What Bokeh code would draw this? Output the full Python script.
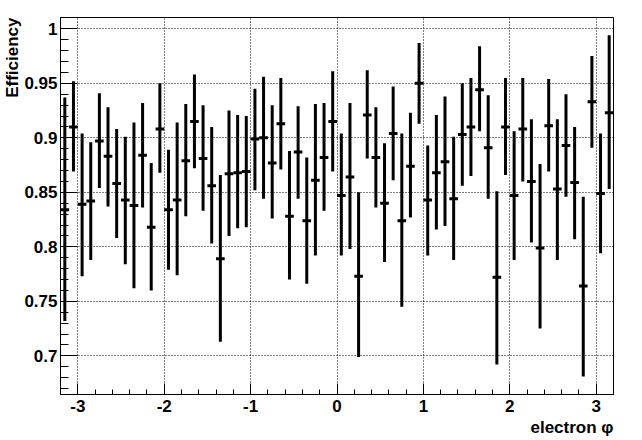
from bokeh.plotting import figure
from bokeh.models import FixedTicker, ColumnDataSource, Range1d, Title
from bokeh.embed import file_html
from bokeh.resources import INLINE

# bin centres of electron phi
phi = [-3.15, -3.05, -2.95, -2.85, -2.75, -2.65, -2.55, -2.45, -2.35, -2.25,
       -2.15, -2.05, -1.95, -1.85, -1.75, -1.65, -1.55, -1.45, -1.35, -1.25,
       -1.15, -1.05, -0.95, -0.85, -0.75, -0.65, -0.55, -0.45, -0.35, -0.25,
       -0.15, -0.05, 0.05, 0.15, 0.25, 0.35, 0.45, 0.55, 0.65, 0.75,
       0.85, 0.95, 1.05, 1.15, 1.25, 1.35, 1.45, 1.55, 1.65, 1.75,
       1.85, 1.95, 2.05, 2.15, 2.25, 2.35, 2.45, 2.55, 2.65, 2.75,
       2.85, 2.95, 3.05, 3.15]

eff = [0.834, 0.910, 0.839, 0.842, 0.897, 0.883, 0.858, 0.843, 0.838, 0.884,
       0.818, 0.908, 0.834, 0.843, 0.879, 0.915, 0.881, 0.856, 0.789, 0.867,
       0.868, 0.869, 0.899, 0.900, 0.877, 0.913, 0.828, 0.887, 0.824, 0.861,
       0.882, 0.915, 0.847, 0.864, 0.773, 0.921, 0.882, 0.840, 0.904, 0.824,
       0.874, 0.950, 0.843, 0.868, 0.878, 0.844, 0.903, 0.910, 0.944, 0.891,
       0.772, 0.910, 0.847, 0.908, 0.860, 0.799, 0.911, 0.853, 0.893, 0.859,
       0.764, 0.933, 0.849, 0.923]

eff_low = [0.732, 0.869, 0.773, 0.788, 0.854, 0.837, 0.808, 0.784, 0.762, 0.836,
           0.760, 0.868, 0.779, 0.774, 0.828, 0.872, 0.833, 0.803, 0.713, 0.810,
           0.817, 0.818, 0.852, 0.844, 0.826, 0.871, 0.770, 0.844, 0.766, 0.792,
           0.833, 0.869, 0.792, 0.798, 0.699, 0.881, 0.836, 0.786, 0.861, 0.745,
           0.827, 0.913, 0.792, 0.816, 0.819, 0.788, 0.856, 0.865, 0.906, 0.844,
           0.692, 0.866, 0.788, 0.860, 0.804, 0.725, 0.869, 0.788, 0.846, 0.807,
           0.681, 0.891, 0.794, 0.853]

eff_high = [0.937, 0.952, 0.904, 0.896, 0.941, 0.928, 0.908, 0.901, 0.914, 0.932,
            0.877, 0.950, 0.889, 0.914, 0.931, 0.958, 0.930, 0.910, 0.866, 0.925,
            0.921, 0.920, 0.945, 0.956, 0.930, 0.955, 0.888, 0.929, 0.882, 0.931,
            0.932, 0.961, 0.904, 0.932, 0.850, 0.962, 0.928, 0.895, 0.947, 0.904,
            0.923, 0.987, 0.893, 0.921, 0.938, 0.901, 0.950, 0.955, 0.984, 0.939,
            0.851, 0.955, 0.906, 0.955, 0.917, 0.876, 0.954, 0.917, 0.940, 0.910,
            0.846, 0.975, 0.904, 0.994]

bin_width = 0.1

x_ticks = [-3, -2, -1, 0, 1, 2, 3]
x_tick_labels = ["-3", "-2", "-1", "0", "1", "2", "3"]
y_ticks = [0.7, 0.75, 0.8, 0.85, 0.9, 0.95, 1.0]
y_tick_labels = ["0.7", "0.75", "0.8", "0.85", "0.9", "0.95", "1"]

x_label = "electron \u03c6"
y_label = "Efficiency"

X_MIN, X_MAX = -3.2, 3.2
Y_MIN, Y_MAX = 0.6645, 1.0104

x_minor = [round(X_MIN + 0.2 * i, 1) for i in range(33)]
y_minor = [round(0.66 + 0.01 * i, 2) for i in range(36)]

FONT = "Liberation Sans"
FS = "17px"

src = ColumnDataSource(dict(phi=phi, eff=eff, lo=eff_low, hi=eff_high))

p = figure(width=642, height=440, output_backend="svg", toolbar_location=None,
           x_range=Range1d(X_MIN, X_MAX), y_range=Range1d(Y_MIN, Y_MAX),
           min_border_left=57, min_border_right=29, min_border_top=17,
           min_border_bottom=46)
p.background_fill_color = "white"
p.border_fill_color = "white"
p.outline_line_color = "black"
p.outline_line_width = 1

p.xaxis.ticker = FixedTicker(ticks=x_ticks, minor_ticks=x_minor)
p.yaxis.ticker = FixedTicker(ticks=y_ticks, minor_ticks=y_minor)
p.xaxis.major_label_overrides = dict(zip(x_ticks, x_tick_labels))
p.yaxis.major_label_overrides = dict(zip(y_ticks, y_tick_labels))

for ax in (p.xaxis, p.yaxis):
    ax.axis_line_color = "black"
    ax.major_tick_line_color = "black"
    ax.minor_tick_line_color = "black"
    ax.major_tick_out = 0
    ax.minor_tick_out = 0
    ax.major_label_text_font = FONT
    ax.major_label_text_font_style = "bold"
    ax.major_label_text_font_size = FS
    ax.major_label_text_color = "black"

p.xaxis.major_tick_in = 11
p.xaxis.minor_tick_in = 5
p.yaxis.major_tick_in = 17
p.yaxis.minor_tick_in = 8
p.xaxis.major_label_standoff = 5
p.yaxis.major_label_standoff = 3

for g in (p.xgrid, p.ygrid):
    g.grid_line_color = "black"
    g.grid_line_width = 1
    g.grid_line_dash = "1 2"
    g.grid_line_alpha = 1.0

p.segment(x0="phi", y0="lo", x1="phi", y1="hi", source=src,
          line_color="black", line_width=3)
p.rect(x="phi", y="eff", width=bin_width, height=3, height_units="screen",
       source=src, fill_color="black", line_color=None)

p.add_layout(Title(text=x_label, align="right", standoff=3,
                   text_font=FONT, text_font_style="bold",
                   text_font_size=FS, text_color="black"), "below")
p.add_layout(Title(text=y_label, align="right", standoff=0,
                   text_font=FONT, text_font_style="bold",
                   text_font_size=FS, text_color="black"), "left")

open("out.html", "w").write(file_html(p, INLINE))
